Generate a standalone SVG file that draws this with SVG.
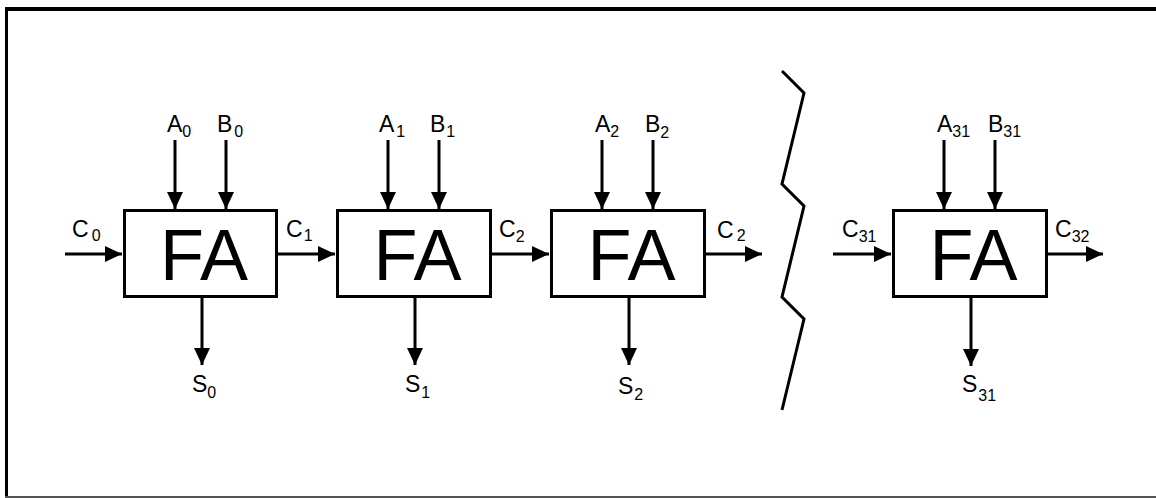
<svg xmlns="http://www.w3.org/2000/svg" width="1156" height="498" viewBox="0 0 1156 498">
<style>
.box{fill:#fff;stroke:#000;stroke-width:3}
.fa{font-family:"Liberation Sans",Arial,sans-serif;font-size:72px;text-anchor:middle;fill:#000}
.lbl{font-family:"Liberation Sans",Arial,sans-serif;font-size:23px;fill:#000}
.sub{font-size:16px}
.wire{stroke:#000;stroke-width:3;fill:none;marker-end:url(#ah)}
</style>
<defs>
<marker id="ah" markerUnits="userSpaceOnUse" markerWidth="17" markerHeight="16" refX="17" refY="8" orient="auto">
<path d="M0,0 L17,8 L0,16 Z" fill="#000"/>
</marker>
</defs>
<rect width="1156" height="498" fill="#fff"/>
<g id="frame">
<line x1="5" y1="9" x2="1156" y2="9" stroke="#000" stroke-width="4"/>
<line x1="6.5" y1="7" x2="6.5" y2="498" stroke="#000" stroke-width="3"/>
<line x1="5" y1="497" x2="1156" y2="497" stroke="#555" stroke-width="2"/>
</g>
<g id="fa0">
<rect class="box" x="124.5" y="210.5" width="152" height="86"/>
<text class="fa" x="204" y="280">FA</text>
</g>
<g id="fa1">
<rect class="box" x="337.5" y="210.5" width="153" height="86"/>
<text class="fa" x="417.5" y="280">FA</text>
</g>
<g id="fa2">
<rect class="box" x="551.5" y="210.5" width="153" height="86"/>
<text class="fa" x="631.5" y="280">FA</text>
</g>
<g id="fa31">
<rect class="box" x="893.5" y="210.5" width="153" height="86"/>
<text class="fa" x="973.5" y="280">FA</text>
</g>
<g id="break">
<polyline points="782,71 804,93 782,184 804,206 782,297 804,319 782,410" fill="none" stroke="#000" stroke-width="3"/>
</g>
<g id="connectors">
<line class="wire" x1="175" y1="140" x2="175" y2="209"/>
<line class="wire" x1="226" y1="140" x2="226" y2="209"/>
<line class="wire" x1="202" y1="298" x2="202" y2="365"/>
<line class="wire" x1="65" y1="254" x2="122" y2="254"/>
<line class="wire" x1="278" y1="254" x2="335" y2="254"/>
<line class="wire" x1="388" y1="140" x2="388" y2="209"/>
<line class="wire" x1="439" y1="140" x2="439" y2="209"/>
<line class="wire" x1="415" y1="298" x2="415" y2="365"/>
<line class="wire" x1="492" y1="254" x2="549" y2="254"/>
<line class="wire" x1="602" y1="140" x2="602" y2="209"/>
<line class="wire" x1="653" y1="140" x2="653" y2="209"/>
<line class="wire" x1="629" y1="298" x2="629" y2="365"/>
<line class="wire" x1="706" y1="254" x2="762" y2="254"/>
<line class="wire" x1="944" y1="140" x2="944" y2="209"/>
<line class="wire" x1="995" y1="140" x2="995" y2="209"/>
<line class="wire" x1="971" y1="298" x2="971" y2="366"/>
<line class="wire" x1="833" y1="254" x2="891" y2="254"/>
<line class="wire" x1="1048" y1="254" x2="1103" y2="254"/>
</g>
<g id="labels">
<text class="lbl" x="167" y="132">A<tspan class="sub" dy="5">0</tspan></text>
<text class="lbl" x="217" y="132">B<tspan class="sub" dx="2" dy="5">0</tspan></text>
<text class="lbl" x="72" y="237">C<tspan class="sub" dx="3" dy="4">0</tspan></text>
<text class="lbl" x="286" y="237">C<tspan class="sub" dx="1" dy="4">1</tspan></text>
<text class="lbl" x="192" y="392">S<tspan class="sub" dx="0" dy="6">0</tspan></text>
<text class="lbl" x="379" y="132">A<tspan class="sub" dx="2" dy="5">1</tspan></text>
<text class="lbl" x="430" y="132">B<tspan class="sub" dx="1" dy="5">1</tspan></text>
<text class="lbl" x="499" y="237">C<tspan class="sub" dy="5">2</tspan></text>
<text class="lbl" x="405" y="392">S<tspan class="sub" dx="1" dy="6">1</tspan></text>
<text class="lbl" x="595" y="132">A<tspan class="sub" dy="5">2</tspan></text>
<text class="lbl" x="645" y="132">B<tspan class="sub" dx="0" dy="6">2</tspan></text>
<text class="lbl" x="717" y="238">C<tspan class="sub" dx="3" dy="3">2</tspan></text>
<text class="lbl" x="618" y="394">S<tspan class="sub" dx="1" dy="6">2</tspan></text>
<text class="lbl" x="937" y="132">A<tspan class="sub" dx="0" dy="5">31</tspan></text>
<text class="lbl" x="988" y="132">B<tspan class="sub" dx="0" dy="5">31</tspan></text>
<text class="lbl" x="842" y="237">C<tspan class="sub" dx="0" dy="5">31</tspan></text>
<text class="lbl" x="1055" y="237">C<tspan class="sub" dx="0" dy="5">32</tspan></text>
<text class="lbl" x="962" y="392">S<tspan class="sub" dx="1" dy="9">31</tspan></text>
</g>
</svg>
